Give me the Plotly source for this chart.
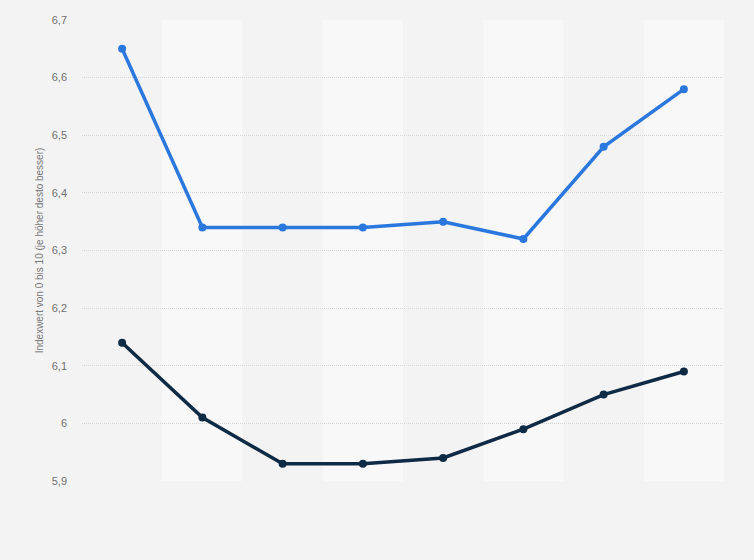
import plotly.graph_objects as go

# categories (no labels shown in the reference)
kategorien = ["2012", "2013", "2014", "2015", "2016", "2017", "2018", "2019"]
serie_hell = [6.65, 6.34, 6.34, 6.34, 6.35, 6.32, 6.48, 6.58]
serie_dunkel = [6.14, 6.01, 5.93, 5.93, 5.94, 5.99, 6.05, 6.09]
y_ticks = [5.9, 6.0, 6.1, 6.2, 6.3, 6.4, 6.5, 6.6, 6.7]
y_labels = ["5,9", "6", "6,1", "6,2", "6,3", "6,4", "6,5", "6,6", "6,7"]

fig = go.Figure()

fig.add_trace(go.Scatter(
    x=kategorien, y=serie_hell, mode="lines+markers",
    line=dict(color="#2a78de", width=3.5),
    marker=dict(size=8, color="#2a78de"),
    showlegend=False,
))
fig.add_trace(go.Scatter(
    x=kategorien, y=serie_dunkel, mode="lines+markers",
    line=dict(color="#0e2a45", width=3.5),
    marker=dict(size=8, color="#0e2a45"),
    showlegend=False,
))

# alternating background bands
for i in range(1, len(kategorien), 2):
    fig.add_shape(type="rect", xref="x", yref="y",
                  x0=i - 0.5, x1=i + 0.5, y0=5.9, y1=6.7,
                  fillcolor="#f8f8f8", line=dict(width=0), layer="below")

fig.update_layout(
    width=754, height=560,
    paper_bgcolor="#f3f3f3", plot_bgcolor="#f3f3f3",
    margin=dict(l=82, r=30, t=20, b=79),
    font=dict(family="Arial, Liberation Sans, sans-serif", color="#707070", size=11),
    xaxis=dict(type="category", range=[-0.5, 7.5], showticklabels=False,
               showgrid=False, zeroline=False, showline=False),
    yaxis=dict(range=[5.9, 6.7], tickvals=y_ticks, ticktext=y_labels,
               showgrid=True, gridcolor="#d6d6d6", griddash="1px,1px", gridwidth=1,
               zeroline=False, showline=False, ticklabelstandoff=14,
               title=dict(text="Indexwert von 0 bis 10 (je höher desto besser)",
                          font=dict(size=10, color="#777777"), standoff=6)),
)

fig.write_html("out.html", config={"displayModeBar": False},
               post_script="document.body.style.margin='0';"
                           "document.body.style.background='#f3f3f3';")
